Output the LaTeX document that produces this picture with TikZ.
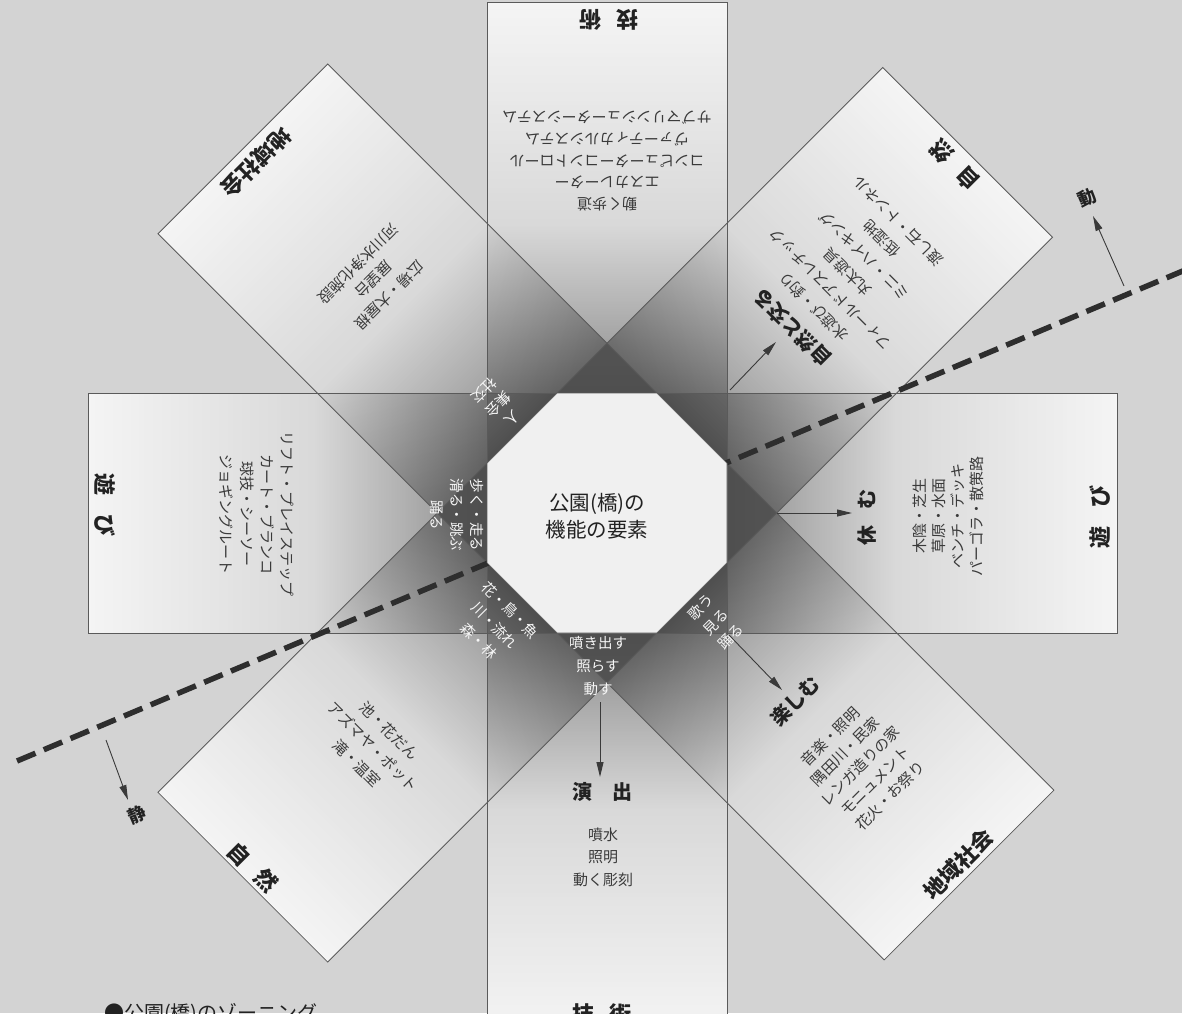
\documentclass[tikz,border=0pt]{standalone}
\usepackage{fontspec}
\setmainfont{Noto Sans CJK JP}
\usetikzlibrary{calc,arrows.meta,shapes.geometric}
\definecolor{pagebg}{HTML}{D3D3D3}
\definecolor{cardbase}{HTML}{E9E9E9}
\definecolor{armdark}{gray}{0.25}
\definecolor{armmid}{gray}{0.8}
\definecolor{edgecol}{HTML}{5A5A5A}
\definecolor{inkdark}{HTML}{222222}
\definecolor{inkbody}{HTML}{3A3A3A}
\definecolor{hubfill}{HTML}{F0F0F0}
\definecolor{dashcol}{HTML}{2E2E2E}
\definecolor{whiteink}{HTML}{F6F6F6}
\pgfdeclarehorizontalshading{armshade}{100bp}{color(0bp)=(armdark); color(36.67bp)=(armdark); color(53.2bp)=(armmid); color(75bp)=(white); color(100bp)=(white)}
\tikzset{
  body/.style={font=\fontsize{15}{#1}\selectfont, text=inkbody, align=center, inner sep=0pt},
  body/.default=21,
  wht/.style={font=\fontsize{14.5}{#1}\selectfont, text=whiteink, align=center, inner sep=0pt},
  wht/.default=21,
  ttl/.style={font=\bfseries\fontsize{22}{24}\selectfont, text=inkdark, inner sep=0pt},
  verbttl/.style={font=\bfseries\fontsize{20}{22}\selectfont, text=inkdark, inner sep=0pt},
  arr/.style={draw=inkbody, line width=0.9pt, -{Triangle[length=15pt,width=7pt]}},
  armedge/.style={draw=edgecol, line width=0.8pt},
}
\begin{document}
\begin{tikzpicture}[x=1pt,y=1pt]
\useasboundingbox (0,-1013) rectangle (1182,0);
\fill[pagebg] (0,-1013) rectangle (1182,0);
\coordinate (C) at (607,-513);

% card bases
\foreach \ang/\len in {90/511,270/525,180/519,0/510,45/510,135/515,225/515,315/512}{
  \fill[cardbase, shift={(607,-513)}, rotate=\ang] (0,-120) rectangle (\len,120);
}
% darkening toward the centre
\foreach \ang/\len in {90/511,270/525,180/519,0/510,45/510,135/515,225/515,315/512}{
  \begin{scope}[transform canvas={shift={(607,-513)},rotate=\ang}]
    \shade[shading=armshade, opacity=0.55] (0,-120) rectangle (\len,120);
  \end{scope}
}
% outlines
\foreach \ang/\len in {90/511,270/525,180/519,0/510,45/510,135/515,225/515,315/512}{
  \draw[armedge, shift={(607,-513)}, rotate=\ang] (0,-120) rectangle (\len,120);
}

% dashed divide
\coordinate (dashL) at ($(C)+(202.8:640)$);
\coordinate (dashR) at ($(C)+(22.8:640)$);
\draw[dashcol, line width=5.5pt, dash pattern=on 20pt off 9pt] (dashL) -- (dashR);

% hub
\node[regular polygon, regular polygon sides=8, minimum size=259.8pt, inner sep=0pt,
      fill=hubfill, draw=edgecol, line width=0.6pt] (hub) at (C) {};
\node[font=\fontsize{20.5}{27}\selectfont, align=center, text=inkdark, inner sep=0pt] (hubText) at (597,-516) {公園(橋)の\\機能の要素};

% arrows
\coordinate (aR0) at (777,-513);  \coordinate (aR1) at (852,-513);
\coordinate (aB0) at (600,-702);  \coordinate (aB1) at (600,-777);
\coordinate (aLR0) at (729,-635); \coordinate (aLR1) at (782,-690);
\coordinate (aUR0) at (730,-390); \coordinate (aUR1) at (776,-342);
\coordinate (aD0) at (1124,-286); \coordinate (aD1) at (1093,-216);
\coordinate (aS0) at (106,-740);  \coordinate (aS1) at (128,-800);
\draw[arr] (aR0) -- (aR1);
\draw[arr] (aB0) -- (aB1);
\draw[arr] (aLR0) -- (aLR1);
\draw[arr] (aUR0) -- (aUR1);
\draw[arr] (aD0) -- (aD1);
\draw[arr] (aS0) -- (aS1);
\node[font=\bfseries\fontsize{18}{20}\selectfont, text=inkdark, rotate=23, inner sep=0pt] (dou) at (1087,-198) {動};
\node[font=\bfseries\fontsize{18}{20}\selectfont, text=inkdark, rotate=23, inner sep=0pt] (sei) at (137,-815) {静};

% top arm
\node[ttl, rotate=180] (topTitle) at (609,-20) {技\hspace{.7em}術};
\node[body=21.7, rotate=180] (topItems) at (607,-161) {動く歩道\\エスカレーター\\コンピューターコントロール\\ヴァーティカルシステム\\サブマリンシューターシステム};

% bottom arm
\node[verbttl] (botVerb) at (602,-792) {演\hspace{1em}出};
\node[body=22.5] (botItems) at (603,-857) {噴水\\照明\\動く彫刻};
\node[ttl] (botTitle) at (602,-1014) {技\hspace{.7em}術};
\node[wht=23] (bWhite) at (598,-666) {噴き出す\\照らす\\動す};

% left arm
\node[ttl, rotate=-90] (leftTitle) at (105,-505) {遊\hspace{.9em}び};
\node[body=20.3, rotate=-90] (leftItems) at (257,-514) {リフト・プレイステップ\\カート・ブランコ\\球技・シーソー\\ジョギングルート};
\node[wht=20, rotate=-90] (lWhite) at (457,-515) {歩く・走る\\滑る・跳ぶ\\踊る};

% right arm
\node[verbttl, rotate=90] (rightVerb) at (867,-517) {休\hspace{.8em}む};
\node[body=19, rotate=90] (rightItems) at (948,-516) {木陰・芝生\\草原・水面\\ベンチ・デッキ\\パーゴラ・散策路};
\node[ttl, rotate=90] (rightTitle) at (1100,-517) {遊\hspace{.9em}び};

% upper right arm
\node[verbttl, rotate=135] (urVerb) at ($(C)+(45:262)$) {自然と交る};
\node[body=24, rotate=135] (urItems) at ($(C)+(45:352)$) {水遊び・釣り\\フィールドアスレチック\\丸太遊具\\ミニ・ハイキング\\低湿地\\渡し石・トンネル};
\node[ttl, rotate=135] (urTitle) at ($(C)+(45:492)$) {自\hspace{.7em}然};

% upper left arm
\node[ttl, rotate=-135] (ulTitle) at ($(C)+(135:496)$) {地域社会};
\node[body=22, rotate=-135] (ulItems) at ($(C)+(135:330)$) {広場・大屋根\\展望台\\河川水浄化施設};
\node[wht=20, rotate=-135] (ulWhite) at ($(C)+(135:154)$) {人\\集会\\社交};

% lower left arm
\node[ttl, rotate=-45] (llTitle) at ($(C)+(225:501)$) {自\hspace{.7em}然};
\node[body=23, rotate=-45] (llItems) at ($(C)+(225:331)$) {池・花だん\\アズマヤ・ポット\\滝・温室};
\node[wht=22, rotate=-45] (llWhite) at ($(C)+(225:159)$) {花・鳥・魚\\川・流れ\\森・林};

% lower right arm
\node[verbttl, rotate=45] (lrVerb) at ($(C)+(315:266)$) {楽しむ};
\node[body=21, rotate=45] (lrItems) at ($(C)+(315:358)$) {音楽・照明\\隅田川・民家\\レンガ造りの家\\モニュメント\\花火・お祭り};
\node[ttl, rotate=45] (lrTitle) at ($(C)+(315:497)$) {地域社会};
\node[wht=21, rotate=45] (lrWhite) at ($(C)+(315:154)$) {歌う\\見る\\踊る};

% caption
\node[anchor=north west, font=\fontsize{20}{24}\selectfont, text=inkdark, inner sep=0pt] (caption) at (104,-1003) {●公園(橋)のゾーニング};
\end{tikzpicture}
\end{document}
